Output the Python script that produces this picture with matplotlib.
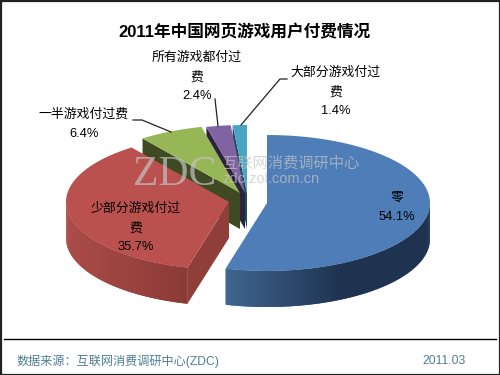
import numpy as np
import matplotlib
matplotlib.use("Agg")
import matplotlib.pyplot as plt
from matplotlib.patches import Polygon, Rectangle

plt.rcParams['font.family'] = ['Liberation Sans', 'Noto Sans CJK SC', 'DejaVu Sans']

title = "2011年中国网页游戏用户付费情况"
categories = ["零", "少部分游戏付过费", "一半游戏付过费", "所有游戏都付过费", "大部分游戏付过费"]
values = [54.1, 35.7, 6.4, 2.4, 1.4]
source = "数据来源：互联网消费调研中心(ZDC)"
date = "2011.03"

colors = ["#4f7db8", "#bb514e", "#97b655", "#8063a1", "#4aa5c2"]
wall_dark = ["#1f3350", "#8a3a36", "#3f4a22", "#2c2240", "#1d4a58"]
wall_light = ["#3f6590", "#ab4c48", "#3f4a22", "#2c2240", "#1d4a58"]
apex = [(267, 203), (229, 202), (240, 193), (245, 193), (247, 193)]
A, B, D = 163, 68, 36

fig = plt.figure(figsize=(5, 3.75), dpi=100, facecolor="white")
ax = fig.add_axes([0, 0, 1, 1])
ax.set_xlim(0, 500)
ax.set_ylim(375, 0)
ax.axis("off")


def pts(c, a0, a1, n=120):
    t = np.radians(np.linspace(a0, a1, n))
    return np.column_stack([c[0] + A * np.sin(t), c[1] - B * np.cos(t)])


def lerp(c1, c2, f):
    a, b = np.array(matplotlib.colors.to_rgb(c1)), np.array(matplotlib.colors.to_rgb(c2))
    return a + (b - a) * f


edges = np.concatenate([[0], np.cumsum(values)]) / sum(values) * 360
order = [4, 3, 2, 1, 0]
for z, i in enumerate(order):
    a0, a1 = edges[i], edges[i + 1]
    c = apex[i]
    # cut wall seen below the slice's first edge
    if i != 0:
        e = pts(c, a0, a0, 1)[0]
        col = "#8f3e3a" if i == 1 else wall_dark[i]
        ax.add_patch(Polygon([c, e, (e[0], e[1] + D), (c[0], c[1] + D)],
                             fc=col, ec="none", zorder=1 + z))
    # outer wall, shaded in overlapping vertical strips
    lo, hi = max(a0, 90), min(a1, 270)
    if hi > lo:
        p = pts(c, lo, hi, 90)
        xmin, span = p[:, 0].min(), np.ptp(p[:, 0])
        ks = np.argsort(p[:, 0])
        p = p[ks]
        for k in range(len(p) - 1):
            f = (p[k][0] - xmin) / span
            f = min(1, f * 1.8) if i == 0 else f
            col = lerp(wall_light[i], wall_dark[i], f)
            q = [p[k], p[min(k + 2, len(p) - 1)], p[min(k + 2, len(p) - 1)] + (0, D), p[k] + (0, D)]
            ax.add_patch(Polygon(q, fc=col, ec="none", zorder=1 + z))
    top = np.vstack([[c], pts(c, a0, a1)])
    ax.add_patch(Polygon(top, fc=colors[i], ec="none", zorder=1.5 + z))

# watermark
wm = dict(zorder=20, color="#c4c4c4", alpha=0.7)
ax.text(133, 185, "ZDC", family=["Liberation Serif"], fontsize=30, ha="left", va="baseline", **wm)
ax.text(222, 163, "互联网消费调研中心", fontsize=11, ha="left", va="center", **wm)
ax.text(222, 179, "zdc.zol.com.cn", fontsize=10.5, ha="left", va="center", **wm)

# leader lines
lk = dict(color="#222222", lw=0.9, zorder=25)
ax.plot([133, 142, 171], [120, 120, 132], **lk)
ax.plot([215, 218], [99, 126], **lk)
ax.plot([287, 280, 241], [79, 79, 125], **lk)

# labels
tk = dict(ha="center", va="center", fontsize=9.3, color="black", zorder=30, linespacing=1.75)


def lab(i, wrap=None):
    n = categories[i]
    if wrap:
        n = n[:wrap] + "\n" + n[wrap:]
    return f"{n}\n{values[i]:.1f}%"


ax.text(397, 207.5, lab(0), **tk)
ax.text(136, 228, lab(1, 7), **tk)
ax.text(84, 124, lab(2), **tk)
ax.text(197, 77, lab(3, 7), **tk)
ax.text(336, 92, lab(4, 7), **tk)

ax.text(244, 32, title, fontsize=12, fontweight="bold", ha="center", va="center", color="black", zorder=30)

# footer and frame
ax.plot([4, 496], [338.5, 338.5], color="black", lw=1, zorder=30)
ax.text(17, 361, source, fontsize=8.7, color="#4d7f96", ha="left", va="center", zorder=30)
ax.text(466, 361, date, fontsize=8.7, color="#4d7f96", ha="right", va="center", zorder=30)
ax.add_patch(Rectangle((0.5, 0.5), 499, 374, fc="none", ec="#222222", lw=1.6, zorder=40))

fig.savefig("out.png", dpi=100, facecolor="white")
